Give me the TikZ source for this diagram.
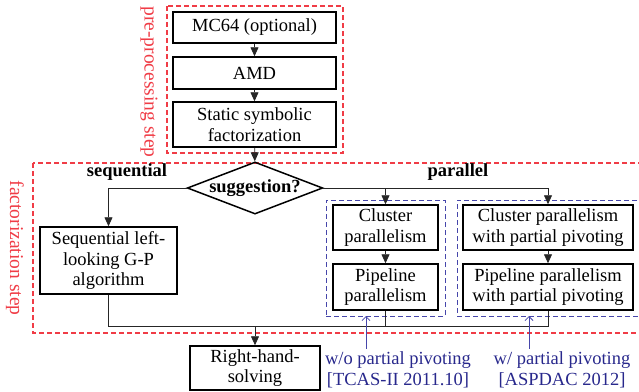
\documentclass[tikz,border=0pt]{standalone}
\usepackage{fontspec}
\setmainfont{Liberation Serif}
\usepackage{tikz}
\usetikzlibrary{shapes.geometric}
\usetikzlibrary{arrows.meta}
\definecolor{stepred}{RGB}{240,60,70}
\definecolor{grpblue}{RGB}{70,70,170}
\definecolor{notblue}{RGB}{40,40,140}
\tikzset{
box/.style = {draw, line width = 1.5pt, align = center, inner sep = 1pt},
dia/.style = {draw, shape = diamond, aspect = 2.6, inner sep = 0pt, line width = 1.5pt, minimum width = 130pt, minimum height = 48pt},
conn/.style = {line width = 0.8pt, black!85},
arr/.style = {conn, -{Triangle[length = 9pt, width = 8pt]}},
stage/.style = {color = stepred, dash pattern = on 5pt off 3pt, line width = 1.2pt},
grp/.style = {draw = grpblue, dash pattern = on 5pt off 3pt, line width = 0.8pt},
steplabel/.style = {text = stepred, rotate = -90, font = \fontsize{19.5}{21}\selectfont},
note/.style = {text = notblue, align = center},
notearr/.style = {draw = grpblue, line width = 0.8pt, -{Straight Barb[length = 4pt, width = 8pt]}}
}
\begin{document}
\begin{tikzpicture}[x = 1pt, y = -1pt, font = \fontsize{18.5}{20.5}\selectfont]
\clip (0,0) rectangle (639,391);
\draw[stage] (167,6) rectangle (343,153);
\draw[stage] (33,163) rectangle (660,333);
\node[steplabel] (prelab) at (149,82) {pre-processing step};
\node[steplabel] (faclab) at (15,248) {factorization step};
\node[grp, minimum width = 119pt, minimum height = 116pt] (grp1) at (385.5,258) {};
\node[grp, minimum width = 200pt, minimum height = 116pt] (grp2) at (557,258) {};
\node[box, minimum width = 163pt, minimum height = 31pt] (mc) at (254.5,27.5) {MC64 (optional)};
\node[box, minimum width = 163pt, minimum height = 32pt] (amd) at (254.5,73) {AMD};
\node[box, minimum width = 163pt, minimum height = 45pt] (sym) at (254.5,124.5) {Static symbolic\\factorization};
\node[dia] (sug) at (255,188) {\textbf{suggestion?}};
\node[font = \fontsize{18.5}{20.5}\selectfont\bfseries] (seqlab) at (127,172) {sequential};
\node[font = \fontsize{18.5}{20.5}\selectfont\bfseries] (parlab) at (458,172) {parallel};
\node[box, minimum width = 137pt, minimum height = 67pt] (seq) at (108.5,260.5) {Sequential left-\\looking G-P\\algorithm};
\node[box, minimum width = 105pt, minimum height = 45pt] (cl1) at (385.5,227.5) {Cluster\\parallelism};
\node[box, minimum width = 105pt, minimum height = 46pt] (pp1) at (385.5,287) {Pipeline\\parallelism};
\node[box, minimum width = 170pt, minimum height = 45pt] (cl2) at (548,227.5) {Cluster parallelism\\with partial pivoting};
\node[box, minimum width = 170pt, minimum height = 46pt] (pp2) at (548,287) {Pipeline parallelism\\with partial pivoting};
\node[box, minimum width = 130pt, minimum height = 44pt] (rhs) at (255,368) {Right-hand-\\solving};
\node[note] (t1) at (398,370) {w/o partial pivoting\\{[TCAS-II 2011.10]}};
\node[note] (t2) at (562,370) {w/ partial pivoting\\{[ASPDAC 2012]}};
\coordinate (j) at (255,326);
\coordinate (a1) at (366,316);
\coordinate (a2) at (529,316);
\draw[arr] (mc) -- (amd);
\draw[arr] (amd) -- (sym);
\draw[arr] (sym) -- (sug);
\draw[arr] (sug.west) -| (seq.north);
\draw[arr] (sug.east) -| (cl1.north);
\draw[arr] (sug.east) -| (cl2.north);
\draw[arr] (cl1) -- (pp1);
\draw[arr] (cl2) -- (pp2);
\draw[conn] (seq.south) |- (pp2.south |- j) -- (pp2.south);
\draw[conn] (pp1.south) -- (pp1.south |- j);
\draw[arr] (j) -- (rhs);
\draw[notearr] (t1.north -| a1) -- (a1);
\draw[notearr] (t2.north -| a2) -- (a2);
\end{tikzpicture}
\end{document}
